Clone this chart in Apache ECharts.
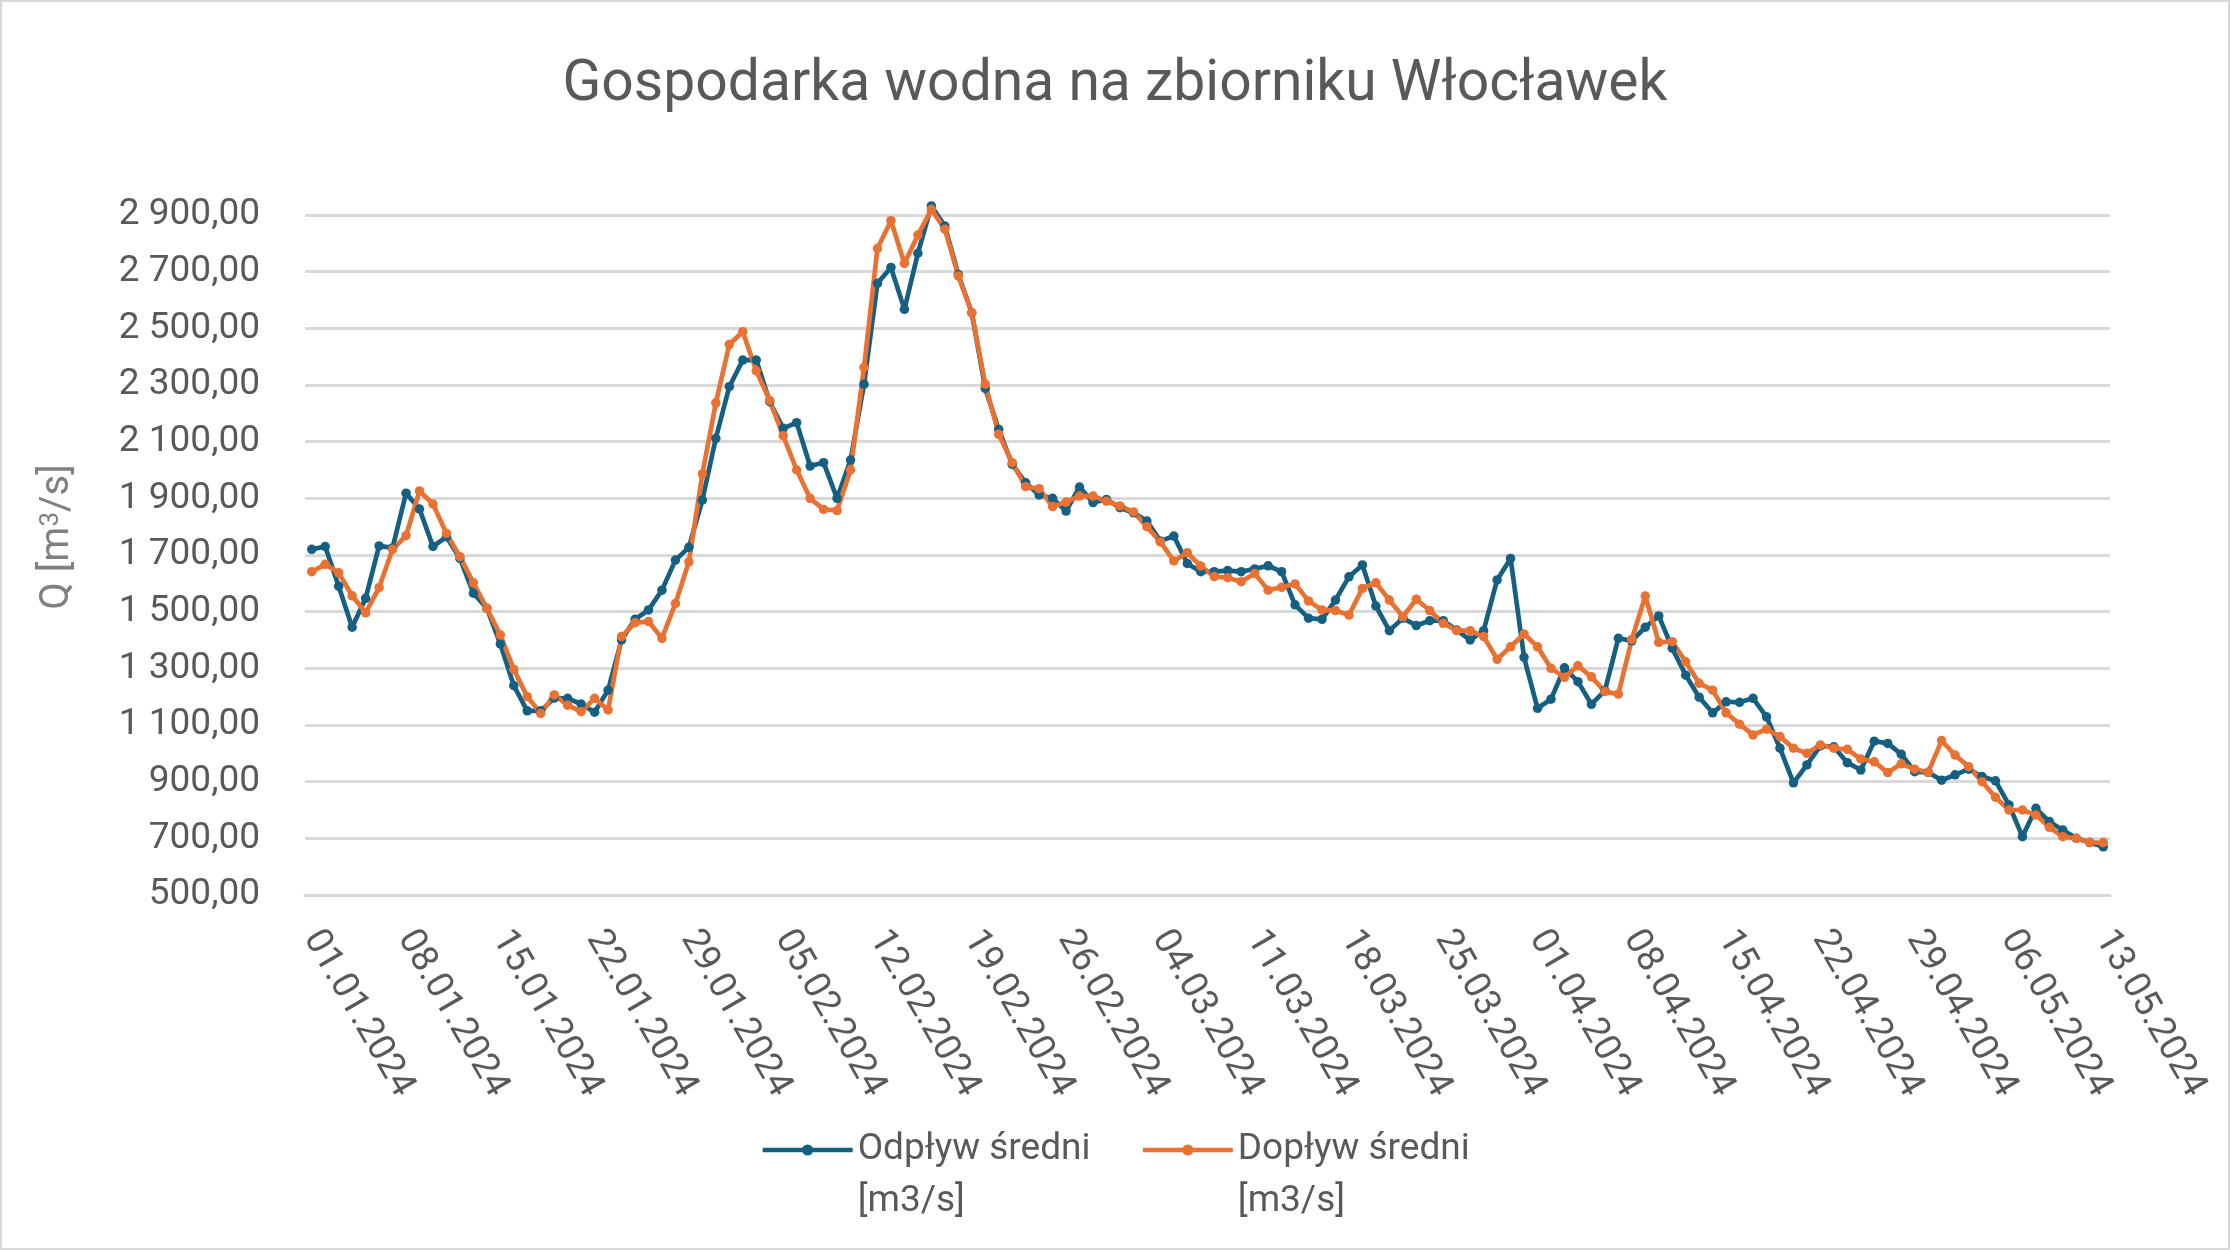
<!DOCTYPE html>
<html>
<head>
<meta charset="utf-8">
<script src="https://cdn.jsdelivr.net/npm/echarts@6/dist/echarts.min.js"></script>
<style>
html,body{margin:0;padding:0;background:#fff;}
#c{width:2230px;height:1250px;}
</style>
</head>
<body>
<div id="c"></div>
<script>
const dates = [
"01.01.2024","02.01.2024","03.01.2024","04.01.2024","05.01.2024","06.01.2024","07.01.2024","08.01.2024","09.01.2024","10.01.2024",
"11.01.2024","12.01.2024","13.01.2024","14.01.2024","15.01.2024","16.01.2024","17.01.2024","18.01.2024","19.01.2024","20.01.2024",
"21.01.2024","22.01.2024","23.01.2024","24.01.2024","25.01.2024","26.01.2024","27.01.2024","28.01.2024","29.01.2024","30.01.2024",
"31.01.2024","01.02.2024","02.02.2024","03.02.2024","04.02.2024","05.02.2024","06.02.2024","07.02.2024","08.02.2024","09.02.2024",
"10.02.2024","11.02.2024","12.02.2024","13.02.2024","14.02.2024","15.02.2024","16.02.2024","17.02.2024","18.02.2024","19.02.2024",
"20.02.2024","21.02.2024","22.02.2024","23.02.2024","24.02.2024","25.02.2024","26.02.2024","27.02.2024","28.02.2024","29.02.2024",
"01.03.2024","02.03.2024","03.03.2024","04.03.2024","05.03.2024","06.03.2024","07.03.2024","08.03.2024","09.03.2024","10.03.2024",
"11.03.2024","12.03.2024","13.03.2024","14.03.2024","15.03.2024","16.03.2024","17.03.2024","18.03.2024","19.03.2024","20.03.2024",
"21.03.2024","22.03.2024","23.03.2024","24.03.2024","25.03.2024","26.03.2024","27.03.2024","28.03.2024","29.03.2024","30.03.2024",
"31.03.2024","01.04.2024","02.04.2024","03.04.2024","04.04.2024","05.04.2024","06.04.2024","07.04.2024","08.04.2024","09.04.2024",
"10.04.2024","11.04.2024","12.04.2024","13.04.2024","14.04.2024","15.04.2024","16.04.2024","17.04.2024","18.04.2024","19.04.2024",
"20.04.2024","21.04.2024","22.04.2024","23.04.2024","24.04.2024","25.04.2024","26.04.2024","27.04.2024","28.04.2024","29.04.2024",
"30.04.2024","01.05.2024","02.05.2024","03.05.2024","04.05.2024","05.05.2024","06.05.2024","07.05.2024","08.05.2024","09.05.2024",
"10.05.2024","11.05.2024","12.05.2024","13.05.2024"
];

const odplyw = [
1720,1730,1590,1445,1547,1732,1725,1918,1862,1730,
1764,1688,1565,1512,1386,1239,1150,1150,1195,1194,
1174,1145,1223,1400,1473,1506,1576,1682,1727,1894,
2112,2294,2388,2388,2241,2147,2167,2014,2026,1900,
2035,2303,2659,2715,2567,2765,2932,2861,2690,2555,
2288,2143,2020,1955,1912,1900,1855,1940,1885,1896,
1867,1849,1820,1749,1767,1670,1641,1641,1645,1641,
1651,1662,1641,1524,1477,1473,1541,1623,1665,1520,
1433,1477,1451,1468,1468,1435,1400,1433,1612,1688,
1339,1159,1191,1302,1253,1173,1221,1406,1397,1445,
1485,1371,1276,1198,1143,1182,1180,1194,1129,1018,
896,959,1026,1023,967,941,1043,1035,997,935,
933,905,924,944,918,903,818,706,806,759,
729,700,685,670
];

const doplyw = [
1641,1667,1637,1556,1496,1585,1720,1768,1926,1880,
1776,1694,1602,1512,1418,1296,1200,1141,1206,1170,
1147,1194,1153,1412,1461,1465,1406,1529,1676,1986,
2237,2443,2488,2350,2245,2121,2000,1900,1861,1857,
2000,2362,2782,2880,2729,2829,2920,2850,2685,2555,
2303,2126,2026,1941,1934,1871,1887,1908,1908,1890,
1873,1852,1800,1746,1679,1708,1661,1624,1620,1606,
1635,1576,1586,1598,1538,1506,1504,1488,1582,1602,
1541,1482,1544,1504,1459,1433,1433,1412,1332,1376,
1421,1376,1300,1268,1309,1270,1218,1209,1402,1555,
1392,1394,1323,1247,1223,1143,1103,1065,1085,1059,
1018,1000,1029,1018,1014,980,970,932,963,944,
933,1045,994,953,900,845,800,800,782,739,
706,700,685,685
];

const seriesNames = ["Odpływ średni\n[m3/s]", "Dopływ średni\n[m3/s]"];
const seriesColors = ["#156082", "#E97132"];

const FONT = "Roboto, 'Open Sans', sans-serif";

function plFmt(v) {
  const parts = v.toFixed(2).split('.');
  const intPart = parts[0].replace(/\B(?=(\d{3})+(?!\d))/g, ' ');
  return intPart + ',' + parts[1];
}

const chart = echarts.init(document.getElementById('c'));
chart.setOption({
  backgroundColor: '#ffffff',
  animation: false,
  textStyle: { fontFamily: FONT },
  title: {
    text: 'Gospodarka wodna na zbiorniku Włocławek',
    left: 'center',
    top: 52,
    textStyle: { fontFamily: FONT, fontSize: 57, fontWeight: 'normal', color: '#595959' }
  },
  graphic: [{
    type: 'rect',
    shape: { x: 1, y: 1, width: 2228, height: 1248 },
    style: { fill: 'none', stroke: '#d9d9d9', lineWidth: 2 },
    silent: true
  }],
  grid: { left: 305, right: 120, top: 215, bottom: 355 },
  legend: {
    left: 'center',
    top: 1067,
    itemWidth: 90,
    itemHeight: 14,
    itemGap: 50,
    lineStyle: { width: 4.7 },
    formatter: function (name) { return '\n' + name; },
    textStyle: { fontFamily: FONT, fontSize: 37, color: '#595959', lineHeight: 52 },
    data: seriesNames
  },
  xAxis: {
    type: 'category',
    data: dates,
    boundaryGap: true,
    axisLine: { lineStyle: { color: '#d9d9d9', width: 3 } },
    axisTick: { interval: 6, length: 14, lineStyle: { color: '#d9d9d9', width: 3 } },
    axisLabel: { interval: 6, rotate: -60, fontSize: 37, color: '#595959', margin: 38, fontFamily: FONT }
  },
  yAxis: {
    type: 'value',
    min: 500,
    max: 2900,
    interval: 200,
    name: 'Q [m{sup|3}/s]',
    nameLocation: 'middle',
    nameGap: 227,
    nameTextStyle: {
      fontFamily: FONT, fontSize: 40, color: '#808080', padding: [0, 0, 0, 36],
      rich: { sup: { fontFamily: FONT, fontSize: 26, color: '#808080', verticalAlign: 'top' } }
    },
    axisLine: { show: false },
    axisTick: { show: false },
    axisLabel: { fontSize: 37, color: '#595959', margin: 45, fontFamily: FONT, formatter: plFmt },
    splitLine: { lineStyle: { color: '#d9d9d9', width: 3 } }
  },
  series: [
    {
      name: seriesNames[0],
      type: 'line',
      data: odplyw,
      symbol: 'circle',
      symbolSize: 9.5,
      showAllSymbol: true,
      clip: false,
      color: seriesColors[0],
      lineStyle: { width: 4.7, color: seriesColors[0] },
      itemStyle: { color: seriesColors[0] }
    },
    {
      name: seriesNames[1],
      type: 'line',
      data: doplyw,
      symbol: 'circle',
      symbolSize: 9.5,
      showAllSymbol: true,
      clip: false,
      color: seriesColors[1],
      lineStyle: { width: 4.7, color: seriesColors[1] },
      itemStyle: { color: seriesColors[1] }
    }
  ]
});
</script>
</body>
</html>
